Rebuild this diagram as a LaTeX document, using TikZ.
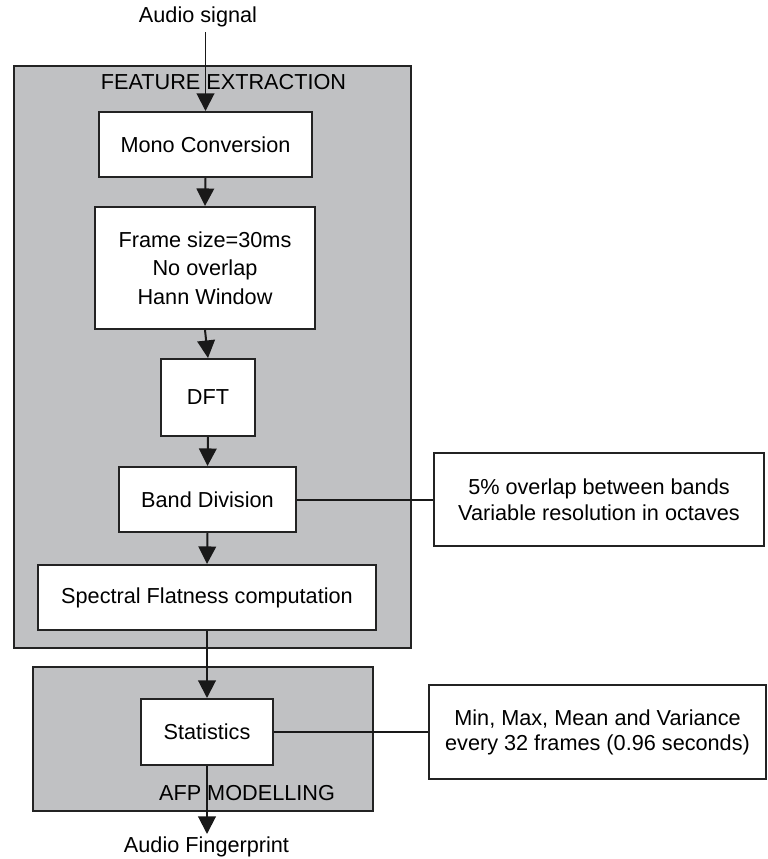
\documentclass[tikz,border=0pt]{standalone}
\usepackage{fontspec}
\setmainfont{Liberation Sans}
\usetikzlibrary{arrows.meta}

\definecolor{panelgray}{RGB}{192,193,195}
\definecolor{edgegray}{RGB}{35,35,35}

\begin{document}
\begin{tikzpicture}
	 [x=0.03cm,y=-0.03cm,
	  every node/.style={font=\fontsize{18.5}{22}\selectfont,inner sep=2pt},
	  stage/.style={draw=edgegray,fill=white,line width=1.7pt,align=center},
	  panel/.style={draw=edgegray,fill=panelgray,line width=1.7pt},
	  flow/.style={line width=1.7pt,draw=black!90,-{Triangle[width=15pt,length=15pt]}},
	  link/.style={line width=1.7pt,draw=black!90}]

	\useasboundingbox (0,0) rectangle (768,859);

	% containers
	\draw[panel] (14,66) rectangle (411,648);
	\draw[panel] (33,667) rectangle (373,811);

	\node (fe) at (223.5,82) {FEATURE EXTRACTION};
	\node (afp) at (247,793) {AFP MODELLING};

	% inputs and outputs
	\node (sig) at (198,17) {Audio signal};
	\coordinate (sigend) at (205.5,32);
	\node (afpout) at (206.5,847) {Audio Fingerprint};
	\coordinate (outend) at (207,834);

	% processing stages
	\node[stage,minimum width=6.39cm,minimum height=1.95cm] (mono) at (205.5,144.5) {Mono Conversion};
	\node[stage,minimum width=6.6cm,minimum height=3.66cm,
	      font=\fontsize{18.5}{24.3}\selectfont] (frame) at (205,268) {Frame size=30ms\\No overlap\\Hann Window};
	\node[stage,minimum width=2.82cm,minimum height=2.31cm] (dft) at (208,397.5) {DFT};
	\node[stage,minimum width=5.31cm,minimum height=1.95cm] (band) at (207.5,499.5) {Band Division};
	\node[stage,minimum width=10.14cm,minimum height=1.95cm] (sfm) at (207,597.5) {Spectral Flatness computation};
	\node[stage,minimum width=3.96cm,minimum height=1.98cm] (stats) at (207,732) {Statistics};

	% side notes
	\node[stage,minimum width=9.9cm,minimum height=2.79cm] (bandnote) at (599,499.5) {5\% overlap between bands\\Variable resolution in octaves};
	\node[stage,minimum width=10.11cm,minimum height=2.82cm,
	      font=\fontsize{18.5}{21.3}\selectfont] (statsnote) at (597.5,732) {Min, Max, Mean and Variance\\every 32 frames (0.96 seconds)};

	\draw[flow] (sigend) -- (mono.north);
	\foreach \from/\to in {mono/frame,frame/dft,dft/band,band/sfm,sfm/stats}
    \draw[flow] (\from.south) -- (\to.north);
	\draw[flow] (stats.south) -- (outend);

	\draw[link] (band.east) -- (bandnote.west);
	\draw[link] (stats.east) -- (statsnote.west);

\end{tikzpicture}
\end{document}
